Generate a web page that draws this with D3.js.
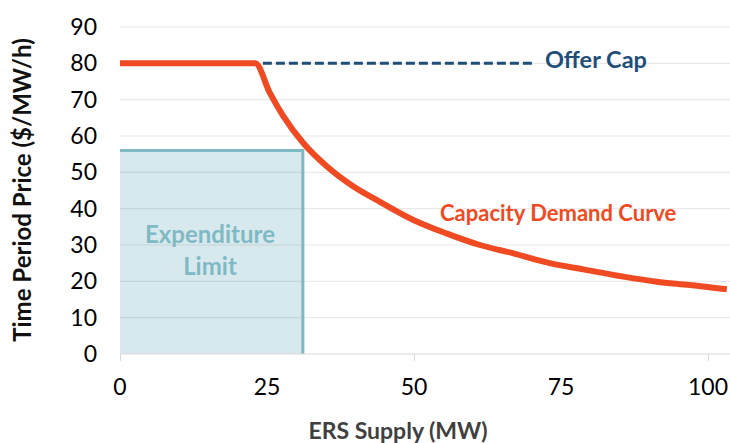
<!DOCTYPE html>
<html>
<head>
<meta charset="utf-8">
<script src="https://cdn.jsdelivr.net/npm/d3@7"></script>
<style>
  body { margin: 0; background: #fff; }
  svg { display: block; font-family: Lato, "Open Sans", sans-serif; }
</style>
</head>
<body>
<svg id="chart" width="730" height="443"></svg>
<script>
// values
var curveX = [0, 23, 25.5, 27.8, 31.2, 35.2, 39.7, 44.2, 49.9, 55.5, 61.2, 66.9, 73.1, 78.8, 85.6, 91.3, 96.9, 103.2];
var curveY = [80, 80, 71.8, 65.4, 58.0, 51.6, 46.1, 41.9, 36.9, 33.2, 30.0, 27.7, 25.0, 23.3, 21.3, 19.9, 19.0, 17.8];
var offerCapX = [24.3, 70.2];
var offerCapY = [80, 80];
var limitX = [0, 31.1];
var limitY = [0, 56];
var yTicks = [0, 10, 20, 30, 40, 50, 60, 70, 80, 90];
var xTicks = [0, 25, 50, 75, 100];
var xTickMarks = [0, 50, 100];

var svg = d3.select('#chart'),
  x = d3.scaleLinear().domain([0, 100]).range([120, 708]),
  y = d3.scaleLinear().domain([0, 90]).range([354, 27]),
  right = 730;

// expenditure limit box (under grid)
svg.append('rect').attr('x', x(limitX[0])).attr('y', y(limitY[1]))
  .attr('width', x(limitX[1]) - x(limitX[0])).attr('height', y(limitY[0]) - y(limitY[1]))
  .attr('fill', '#d8e9ee');

// gridlines
svg.append('g').selectAll('line').data(yTicks.slice(1)).join('line')
  .attr('x1', x(0)).attr('x2', right)
  .attr('y1', function(d) { return y(d); }).attr('y2', function(d) { return y(d); })
  .attr('stroke', 'rgba(0,0,0,0.085)').attr('stroke-width', 1.2);

// border of the box: top and right edges
svg.append('path')
  .attr('d', 'M' + x(limitX[0]) + ',' + y(limitY[1]) + 'H' + x(limitX[1]) + 'V' + y(limitY[0]))
  .attr('fill', 'none').attr('stroke', '#7fb9c3').attr('stroke-width', 3);

// x axis
var xAxis = d3.axisBottom(x).tickValues(xTickMarks).tickSize(7).tickFormat('');
var xg = svg.append('g').attr('transform', 'translate(0,' + y(0) + ')').call(xAxis);
xg.select('.domain').attr('d', 'M' + x(0) + ',0H' + right).attr('stroke', '#d9d9d9').attr('stroke-width', 1.2);
xg.selectAll('.tick line').attr('stroke', '#d9d9d9');

svg.append('g').selectAll('text').data(xTicks).join('text')
  .attr('x', function(d) { return x(d); }).attr('y', 395)
  .attr('text-anchor', 'middle').attr('font-size', 23).attr('fill', '#000')
  .text(function(d) { return d; });

// y labels
var yAxis = d3.axisLeft(y).tickValues(yTicks).tickSize(0).tickPadding(0);
var yg = svg.append('g').attr('transform', 'translate(97,0)').call(yAxis);
yg.select('.domain').remove();
yg.selectAll('text').attr('font-size', 23).attr('font-family', 'Lato, sans-serif').attr('fill', '#000');

// titles
svg.append('text').attr('transform', 'translate(31,190) rotate(-90)')
  .attr('text-anchor', 'middle').attr('font-size', 24).attr('font-weight', 'bold')
  .attr('fill', '#111').text('Time Period Price ($/MW/h)');
svg.append('text').attr('x', 398).attr('y', 439)
  .attr('text-anchor', 'middle').attr('font-size', 23).attr('font-weight', 'bold')
  .attr('fill', '#404040').text('ERS Supply (MW)');

// offer cap dashed line
var line = d3.line().x(function(d) { return x(d[0]); }).y(function(d) { return y(d[1]); });
svg.append('path').datum(d3.zip(offerCapX, offerCapY)).attr('d', line)
  .attr('fill', 'none').attr('stroke', '#1f4e79').attr('stroke-width', 3)
  .attr('stroke-dasharray', '9,4');
svg.append('text').attr('x', 545).attr('y', 68).attr('font-size', 23.5).attr('font-weight', 'bold')
  .attr('fill', '#1f4e79').text('Offer Cap');

// demand curve
svg.append('path').datum(d3.zip(curveX, curveY))
  .attr('d', line.curve(d3.curveMonotoneX))
  .attr('fill', 'none').attr('stroke', '#f04a23').attr('stroke-width', 6)
  .attr('stroke-linejoin', 'round');

svg.append('text').attr('x', 440).attr('y', 221).attr('font-size', 22).attr('font-weight', 'bold')
  .attr('fill', '#f04a23').text('Capacity Demand Curve');

// box label
svg.append('text').attr('x', 210).attr('y', 243).attr('text-anchor', 'middle')
  .attr('font-size', 24).attr('font-weight', 'bold').attr('fill', '#7fb9c3')
  .selectAll('tspan').data(['Expenditure', 'Limit']).join('tspan')
  .attr('x', 210).attr('dy', function(d, i) { return i ? 32 : 0; })
  .text(function(d) { return d; });
</script>
</body>
</html>
